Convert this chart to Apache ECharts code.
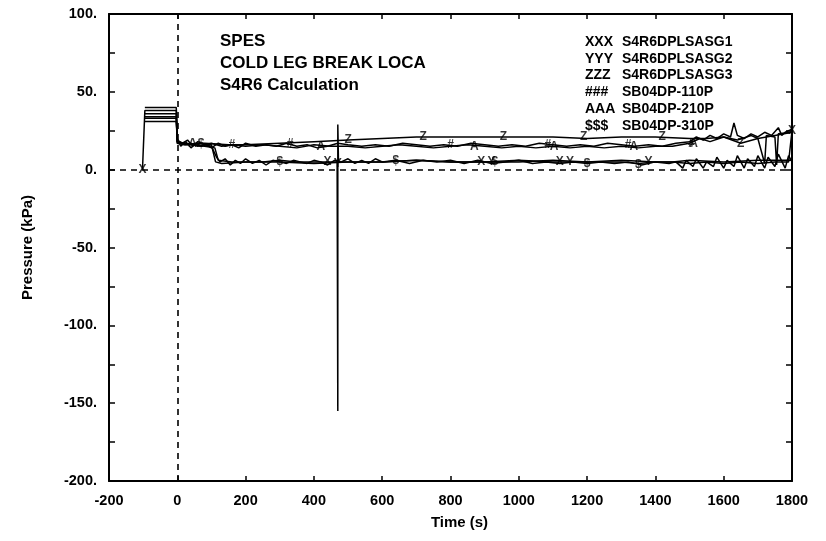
<!DOCTYPE html>
<html>
<head>
<meta charset="utf-8">
<script src="https://cdn.jsdelivr.net/npm/echarts@6/dist/echarts.min.js"></script>
<style>
html,body{margin:0;padding:0;background:#fff;}
#chart{width:826px;height:541px;}
</style>
</head>
<body>
<div id="chart"></div>
<script>
// ---- Data ----
const xTicks = [-200, 0, 200, 400, 600, 800, 1000, 1200, 1400, 1600, 1800];
const yTicks = [-200, -150, -100, -50, 0, 50, 100];
const seriesNames = ['S4R6DPLSASG1', 'S4R6DPLSASG2', 'S4R6DPLSASG3', 'SB04DP-110P', 'SB04DP-210P', 'SB04DP-310P'];
const markerChars = ['X', 'Y', 'Z', '#', 'A', '$'];

// S4R6DPLSASG1 (calculation)
const sg1 = [[-102,0],[-95,38],[-3,38],[0,18],[20,17],[50,16],[80,15],[110,14],[120,6],[160,5],[200,5],[250,5],[300,6],[350,5],[400,5],[440,5],[468,5],[470,-155],[470,29],[472,5],[500,5],[550,5],[600,5],[700,6],[800,5],[900,5],[1000,6],[1100,5],[1200,5],[1300,6],[1400,5],[1450,5],[1500,4],[1550,5],[1600,4],[1650,5],[1700,4],[1750,5],[1790,5],[1800,25]];
// S4R6DPLSASG2 (calculation)
const sg2 = [[-95,36],[-3,36],[0,17],[25,16],[60,17],[100,16],[112,5],[130,4],[200,5],[300,5],[400,4],[500,5],[600,5],[700,6],[800,5],[900,5],[1000,5],[1100,6],[1200,5],[1300,5],[1350,4],[1400,5],[1450,5],[1500,6],[1600,5],[1700,6],[1800,6]];
// S4R6DPLSASG3 (calculation)
const sg3 = [[-95,34],[-3,34],[0,17],[30,16],[80,17],[150,16],[200,16],[300,17],[400,18],[500,19],[600,20],[700,21],[800,21],[900,21],[1000,21],[1100,21],[1200,20],[1300,21],[1400,21],[1500,20],[1550,20],[1600,21],[1650,17],[1700,20],[1750,22],[1800,24]];
// SB04DP-110P (experiment)
const dp110 = [[-95,40],[-3,40],[0,20],[10,15],[25,18],[40,14],[55,17],[70,15],[85,16],[100,14],[120,17],[140,15],[160,16],[180,14],[200,17],[230,15],[260,16],[290,15],[320,17],[350,15],[380,16],[410,14],[440,15],[470,17],[500,16],[540,15],[580,16],[620,15],[660,17],[700,16],[740,15],[780,16],[820,15],[860,17],[900,16],[940,15],[980,16],[1020,15],[1060,17],[1100,16],[1140,15],[1180,16],[1220,15],[1260,17],[1300,16],[1340,15],[1380,16],[1420,15],[1460,17],[1500,18],[1520,21],[1540,19],[1560,22],[1580,20],[1600,23],[1620,21],[1630,30],[1640,22],[1660,20],[1680,23],[1700,21],[1720,24],[1740,22],[1760,27],[1770,22],[1780,24],[1800,26]];
// SB04DP-210P (experiment)
const dp210 = [[-95,33],[-3,33],[0,19],[15,17],[30,19],[45,15],[60,18],[80,16],[100,17],[130,15],[160,16],[200,15],[250,16],[300,15],[350,14],[400,16],[450,15],[500,15],[550,14],[600,15],[650,16],[700,15],[750,14],[800,15],[850,16],[900,15],[950,14],[1000,15],[1050,14],[1100,15],[1150,14],[1200,15],[1250,14],[1300,15],[1350,14],[1400,15],[1450,15],[1500,17],[1530,20],[1560,18],[1600,21],[1640,19],[1680,22],[1700,20],[1720,4],[1725,22],[1750,21],[1755,3],[1760,23],[1800,24]];
// SB04DP-310P (experiment)
const dp310 = [[-95,31],[-3,31],[0,18],[20,16],[40,17],[60,15],[80,16],[100,15],[115,8],[125,5],[140,7],[155,3],[170,6],[185,4],[200,7],[220,4],[240,6],[260,3],[280,6],[300,5],[320,4],[340,6],[360,5],[380,4],[400,6],[420,5],[440,3],[460,6],[480,5],[500,7],[520,4],[540,6],[560,4],[580,7],[600,5],[640,6],[680,4],[720,6],[760,5],[800,6],[840,4],[880,6],[920,4],[960,5],[1000,6],[1040,4],[1080,5],[1120,4],[1160,5],[1200,4],[1240,5],[1280,4],[1320,5],[1360,3],[1400,5],[1440,4],[1460,5],[1480,1],[1490,6],[1510,2],[1520,7],[1540,1],[1550,5],[1570,2],[1580,8],[1600,1],[1610,6],[1630,2],[1640,9],[1660,1],[1670,7],[1690,2],[1700,9],[1720,1],[1730,8],[1750,2],[1760,10],[1780,1],[1790,9],[1800,5]];

// Marker (symbol character) positions on each curve
const sg1Marks = [[-102,0],[440,5],[890,5],[1120,5],[1800,25]];
const sg2Marks = [[470,4],[920,5],[1150,5],[1380,5]];
const sg3Marks = [[500,19],[720,21],[955,21],[1190,21],[1420,21],[1650,17]];
const dp110Marks = [[160,16],[330,17],[800,16],[1085,16],[1320,16],[1505,17]];
const dp210Marks = [[45,17],[420,15],[870,15],[1103,15],[1337,15],[1512,17]];
const dp310Marks = [[70,17],[300,5],[640,6],[930,5],[1200,4],[1350,3]];

const titleLines = ['SPES', 'COLD LEG BREAK LOCA', 'S4R6 Calculation'];

// ---- Chart ----
const lineData = [sg1, sg2, sg3, dp110, dp210, dp310];
const markData = [sg1Marks, sg2Marks, sg3Marks, dp110Marks, dp210Marks, dp310Marks];
const FONT = '"Liberation Sans", Arial, sans-serif';

const series = [];
seriesNames.forEach((name, i) => {
  const s = {
    name: name,
    type: 'line',
    data: lineData[i],
    showSymbol: false,
    symbol: 'none',
    lineStyle: { color: '#000', width: 1.5 },
    itemStyle: { color: '#000' },
    z: 3
  };
  if (i === 0) {
    s.markLine = {
      silent: true,
      symbol: ['none', 'none'],
      label: { show: false },
      lineStyle: { color: '#000', type: [6, 5], width: 1.6 },
      data: [{ yAxis: 0 }, { xAxis: 0 }]
    };
  }
  series.push(s);
});
seriesNames.forEach((name, i) => {
  series.push({
    name: name + ' markers',
    type: 'scatter',
    data: markData[i],
    symbol: 'rect',
    symbolSize: 1,
    itemStyle: { color: 'rgba(0,0,0,0)' },
    label: {
      show: true,
      position: 'inside',
      formatter: markerChars[i],
      color: '#000',
      fontFamily: FONT,
      fontSize: 12,
      fontWeight: 'bold'
    },
    z: 4
  });
});

const charIdx = {};
seriesNames.forEach((n, i) => { charIdx[n] = i; });

const option = {
  animation: false,
  backgroundColor: '#fff',
  textStyle: { fontFamily: FONT },
  title: {
    text: titleLines.join('\n'),
    left: 220,
    top: 30,
    padding: 0,
    textStyle: { fontFamily: FONT, fontSize: 17, fontWeight: 'bold', color: '#000', lineHeight: 22 }
  },
  legend: {
    orient: 'vertical',
    left: 575,
    top: 30,
    itemWidth: 0,
    itemHeight: 14,
    itemGap: 2.8,
    icon: 'rect',
    selectedMode: false,
    data: seriesNames,
    formatter: function (name) {
      const c = markerChars[charIdx[name]];
      return '{m|' + c + c + c + '}{n|' + name + '}';
    },
    textStyle: {
      color: '#000',
      fontFamily: FONT,
      fontSize: 14,
      fontWeight: 'bold',
      rich: {
        m: { width: 37, fontFamily: FONT, fontSize: 14, fontWeight: 'bold', color: '#000', lineHeight: 14 },
        n: { fontFamily: FONT, fontSize: 14, fontWeight: 'bold', color: '#000', lineHeight: 14 }
      }
    }
  },
  grid: { left: 109, right: 34, top: 14, bottom: 60, containLabel: false },
  xAxis: [{
    type: 'value',
    min: xTicks[0],
    max: xTicks[xTicks.length - 1],
    interval: 200,
    name: 'Time (s)',
    nameLocation: 'middle',
    nameGap: 34,
    nameTextStyle: { fontFamily: FONT, fontSize: 15, fontWeight: 'bold', color: '#000', padding: [0, 0, 0, 18] },
    axisLine: { show: true, onZero: false, lineStyle: { color: '#000', width: 2 } },
    axisTick: { show: true, inside: true, length: 5, lineStyle: { color: '#000', width: 1.5 } },
    axisLabel: { color: '#000', fontFamily: FONT, fontSize: 14.5, fontWeight: 'bold', margin: 12,
      formatter: v => String(v) },
    splitLine: { show: false }
  }, {
    type: 'value',
    position: 'top',
    min: xTicks[0],
    max: xTicks[xTicks.length - 1],
    interval: 200,
    axisLine: { show: true, onZero: false, lineStyle: { color: '#000', width: 2 } },
    axisTick: { show: true, inside: true, length: 5, lineStyle: { color: '#000', width: 1.5 } },
    axisLabel: { show: false },
    splitLine: { show: false }
  }],
  yAxis: [{
    type: 'value',
    min: yTicks[0],
    max: yTicks[yTicks.length - 1],
    interval: 50,
    name: 'Pressure (kPa)',
    nameLocation: 'middle',
    nameGap: 74,
    nameTextStyle: { fontFamily: FONT, fontSize: 15, fontWeight: 'bold', color: '#000' },
    axisLine: { show: true, onZero: false, lineStyle: { color: '#000', width: 2 } },
    axisTick: { show: true, inside: true, length: 6, lineStyle: { color: '#000', width: 1.5 } },
    minorTick: { show: true, splitNumber: 2, length: 6, lineStyle: { color: '#000', width: 1.5 } },
    axisLabel: { color: '#000', fontFamily: FONT, fontSize: 14.5, fontWeight: 'bold', margin: 12,
      formatter: v => v + '.' },
    splitLine: { show: false }
  }, {
    type: 'value',
    position: 'right',
    min: yTicks[0],
    max: yTicks[yTicks.length - 1],
    interval: 50,
    axisLine: { show: true, onZero: false, lineStyle: { color: '#000', width: 2 } },
    axisTick: { show: true, inside: true, length: 6, lineStyle: { color: '#000', width: 1.5 } },
    minorTick: { show: true, splitNumber: 2, length: 6, lineStyle: { color: '#000', width: 1.5 } },
    axisLabel: { show: false },
    splitLine: { show: false }
  }],
  series: series
};

const chart = echarts.init(document.getElementById('chart'), null, { renderer: 'canvas' });
chart.setOption(option);
</script>
</body>
</html>
